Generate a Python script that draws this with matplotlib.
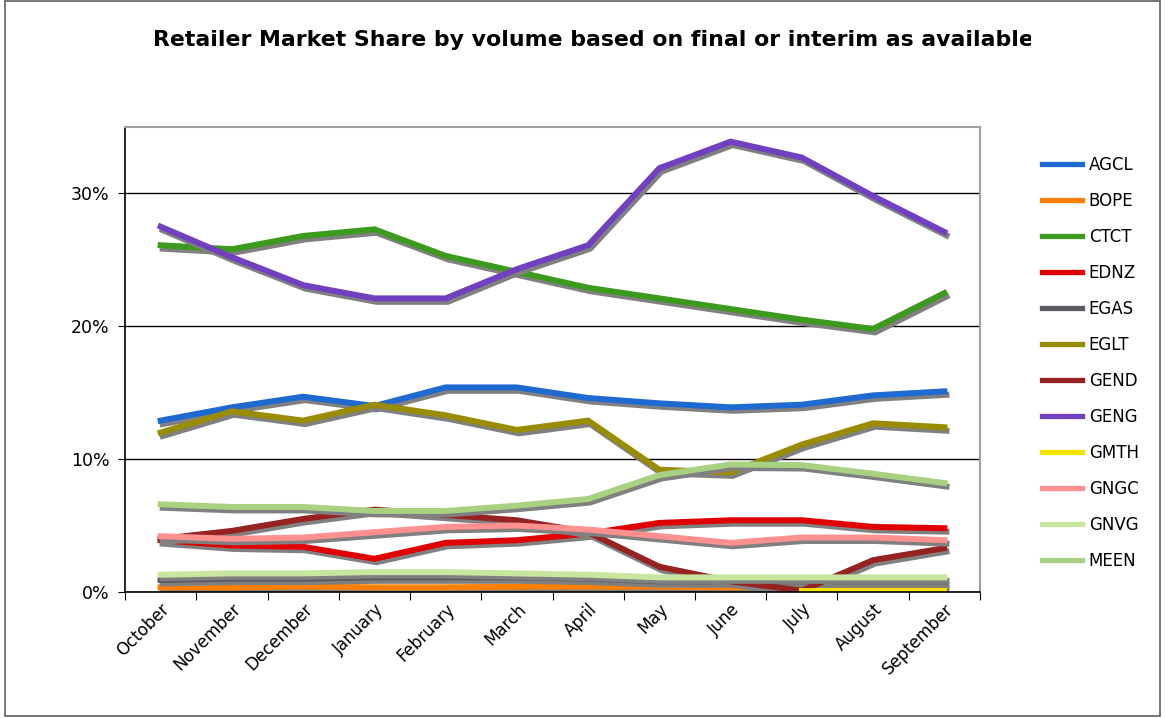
import numpy as np
import matplotlib
matplotlib.use("Agg")
import matplotlib.pyplot as plt
import matplotlib.patheffects as pe
from matplotlib.patches import Rectangle
from matplotlib.transforms import Bbox

# Months (category axis)
months = ["October", "November", "December", "January", "February", "March",
          "April", "May", "June", "July", "August", "September"]

# Market share by retailer (%)
agcl = [12.9, 13.9, 14.7, 14.0, 15.4, 15.4, 14.6, 14.2, 13.9, 14.1, 14.8, 15.1]
bope = [0.35, 0.35, 0.4, 0.35, 0.35, 0.4, 0.4, 0.4, 0.35, 0.4, 0.45, 0.45]
ctct = [26.1, 25.8, 26.8, 27.3, 25.3, 24.1, 22.9, 22.1, 21.3, 20.5, 19.8, 22.5]
ednz = [3.9, 3.5, 3.4, 2.5, 3.7, 3.9, 4.4, 5.2, 5.4, 5.4, 4.9, 4.8]
egas = [0.9, 1.0, 1.0, 1.1, 1.1, 1.1, 1.0, 0.8, 0.8, 0.8, 0.8, 0.8]
eglt = [12.0, 13.6, 12.9, 14.1, 13.3, 12.2, 12.9, 9.2, 9.0, 11.1, 12.7, 12.4]
gend = [4.0, 4.6, 5.5, 6.2, 5.8, 5.4, 4.5, 1.9, 0.8, 0.1, 2.4, 3.3]
geng = [27.5, 25.2, 23.1, 22.1, 22.1, 24.3, 26.1, 31.9, 33.9, 32.7, 29.8, 27.1]
gmth = [np.nan] * 9 + [0.1, 0.1, 0.1]
gngc = [4.2, 4.0, 4.1, 4.5, 4.9, 5.0, 4.7, 4.2, 3.7, 4.1, 4.1, 3.9]
gnvg = [1.3, 1.4, 1.4, 1.5, 1.5, 1.4, 1.3, 1.1, 1.1, 1.1, 1.1, 1.1]
meen = [6.6, 6.4, 6.4, 6.1, 6.1, 6.5, 7.0, 8.8, 9.6, 9.55, 8.9, 8.2]

series = [
    ("AGCL", agcl, "#1f6ad0"),
    ("BOPE", bope, "#ff8000"),
    ("CTCT", ctct, "#3c9a1c"),
    ("EDNZ", ednz, "#e00000"),
    ("EGAS", egas, "#5a5a62"),
    ("EGLT", eglt, "#9a8c00"),
    ("GEND", gend, "#962222"),
    ("GENG", geng, "#7040c0"),
    ("GMTH", gmth, "#f2e400"),
    ("GNGC", gngc, "#ff9090"),
    ("GNVG", gnvg, "#c8e6a0"),
    ("MEEN", meen, "#a8d282"),
]

fig = plt.figure(figsize=(11.65, 7.18), dpi=100)
ax = fig.add_axes([0.1073, 0.1755, 0.7339, 0.6476])

x = np.arange(len(months))
shadow = [pe.SimpleLineShadow(offset=(1.5, -2.5), shadow_color="#808080", alpha=1.0),
          pe.Normal()]
for name, vals, col in series:
    ax.plot(x, np.array(vals) / 100, color=col, lw=4.3, label=name,
            solid_joinstyle="miter", path_effects=shadow)

ax.set_xlim(-0.5, len(months) - 0.5)
ax.set_ylim(0, 0.35)
ax.set_yticks([0, 0.1, 0.2, 0.3])
ax.set_yticklabels(["0%", "10%", "20%", "30%"], fontsize=12.5)
ax.yaxis.grid(True, color="black", lw=1)
ax.set_axisbelow(True)

# tick marks between categories, labels at category centres
ax.set_xticks(np.arange(-0.5, len(months), 1.0))
ax.set_xticklabels([])
ax.set_xticks(x, minor=True)
ax.set_xticklabels(months, minor=True, rotation=45, ha="right", va="top",
                   rotation_mode="anchor", fontsize=12)
ax.tick_params(axis="x", which="minor", length=0, pad=6)
ax.tick_params(axis="x", which="major", length=6, direction="out", color="black")
ax.tick_params(axis="y", length=5, direction="out", pad=6)

for s in ["top", "right"]:
    ax.spines[s].set_color("#a0a0a0")
    ax.spines[s].set_linewidth(1.5)
for s in ["left", "bottom"]:
    ax.spines[s].set_color("black")
    ax.spines[s].set_linewidth(1.2)

leg = ax.legend(loc="upper left", bbox_to_anchor=(1.055, 0.97), frameon=False,
                fontsize=12, handlelength=2.4, labelspacing=1.08, handletextpad=0.4)
for h in leg.get_lines():
    h.set_linewidth(3.8)
    h.set_path_effects([])

# title is cut off on the right in the original
title = fig.text(0.131, 0.944, "Retailer Market Share by volume based on final or interim as available",
                 ha="left", va="center", fontsize=15.8, fontweight="bold")
title.set_clip_box(Bbox.from_extents(0, 0, 1031, 718))
title.set_clip_on(True)

fig.patches.append(Rectangle((0.004, 0.003), 0.992, 0.995, transform=fig.transFigure,
                             fill=False, edgecolor="#606060", lw=1.2))

fig.savefig("out.png", dpi=100)
